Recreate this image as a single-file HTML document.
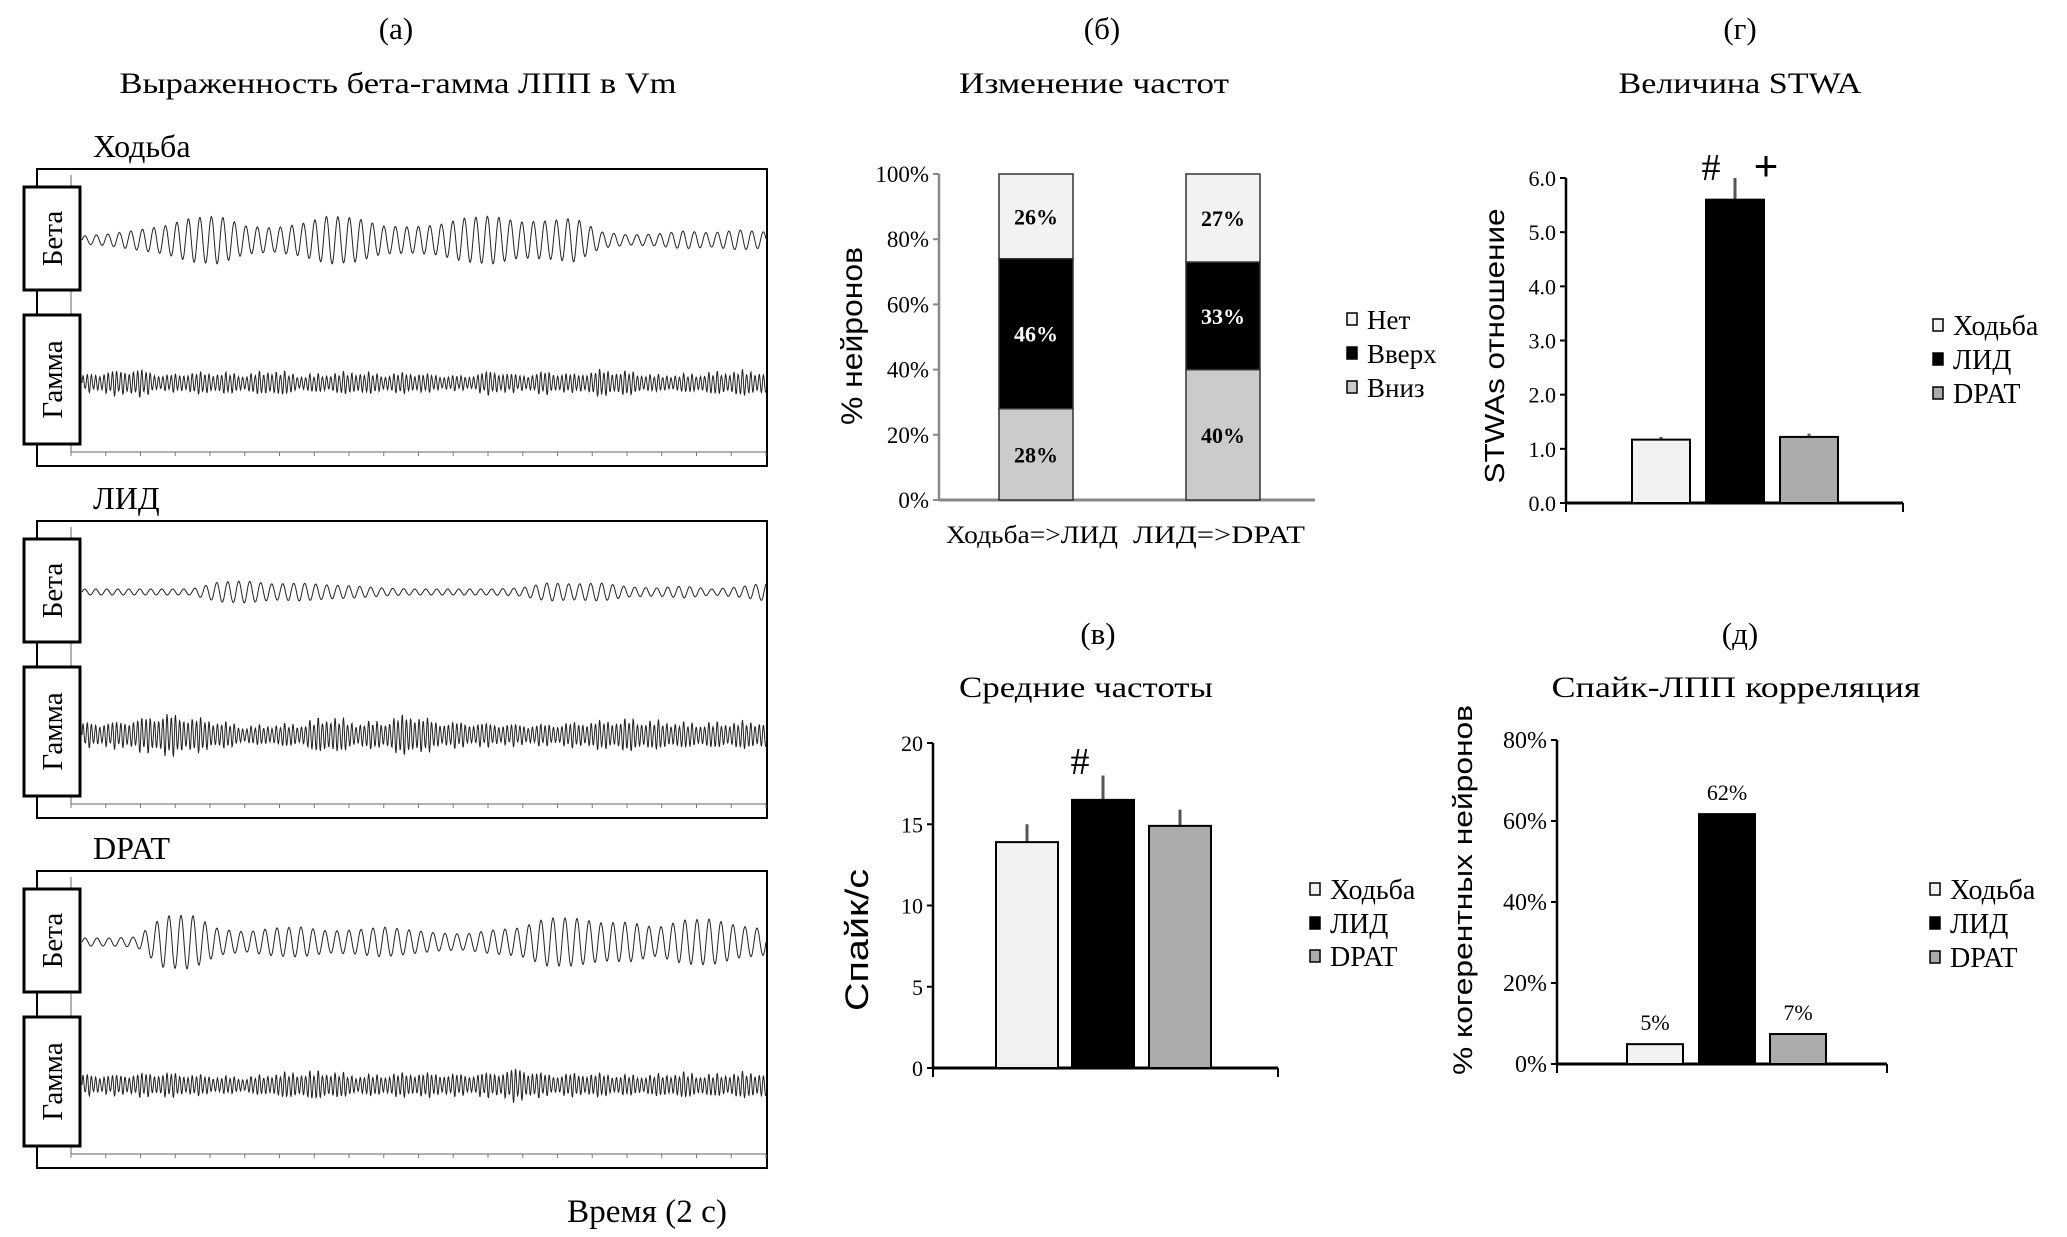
<!DOCTYPE html>
<html><head><meta charset="utf-8">
<style>
html,body{margin:0;padding:0;background:#fff;}
svg{display:block;font-family:"Liberation Serif",serif;}
.sans{font-family:"Liberation Sans",sans-serif;}
</style></head>
<body>
<svg id="fig" width="2067" height="1237" viewBox="0 0 2067 1237" xmlns="http://www.w3.org/2000/svg">
<rect width="2067" height="1237" fill="#fff"/>
<text x="396" y="39" font-size="31" text-anchor="middle">(а)</text>
<text x="398" y="93" font-size="30" text-anchor="middle" textLength="557" lengthAdjust="spacingAndGlyphs">Выраженность бета-гамма ЛПП в Vm</text>
<g id="traces"></g>
<text x="647" y="1222" font-size="33" text-anchor="middle" textLength="160" lengthAdjust="spacingAndGlyphs">Время (2 с)</text>

<text x="1102" y="39" font-size="31" text-anchor="middle">(б)</text>
<text x="1094" y="93" font-size="30" text-anchor="middle" textLength="270" lengthAdjust="spacingAndGlyphs">Изменение частот</text>
<g id="chartB"></g>

<text x="1740" y="39" font-size="31" text-anchor="middle">(г)</text>
<text x="1740" y="93" font-size="30" text-anchor="middle" textLength="243" lengthAdjust="spacingAndGlyphs">Величина STWA</text>
<g id="chartG"></g>

<text x="1098" y="644" font-size="31" text-anchor="middle">(в)</text>
<text x="1086" y="697" font-size="30" text-anchor="middle" textLength="254" lengthAdjust="spacingAndGlyphs">Средние частоты</text>
<g id="chartV"></g>

<text x="1740" y="644" font-size="31" text-anchor="middle">(д)</text>
<text x="1736" y="697" font-size="30" text-anchor="middle" textLength="369" lengthAdjust="spacingAndGlyphs">Спайк-ЛПП корреляция</text>
<g id="chartD"></g>
</svg>
<script>
// ---------- data ----------
const conditions = ["Ходьба", "ЛИД", "DPAT"];
const condColors = ["#f1f1f1", "#000000", "#ababab"];
// chart б
const transitions = ["Ходьба=>ЛИД", "ЛИД=>DPAT"];
const downVals = [28, 40];
const upVals = [46, 33];
const noneVals = [26, 27];
const bTicks = ["0%", "20%", "40%", "60%", "80%", "100%"];
// chart г
const stwaVals = [1.17, 5.6, 1.22];
const stwaErr = [0.05, 0.4, 0.06];
const gTicks = ["0.0", "1.0", "2.0", "3.0", "4.0", "5.0", "6.0"];
// chart в
const rateVals = [13.9, 16.5, 14.9];
const rateErr = [1.1, 1.5, 1.0];
const vTicks = ["0", "5", "10", "15", "20"];
// chart д
const cohVals = [4.9, 61.7, 7.4];
const cohLabels = ["5%", "62%", "7%"];
const dTicks = ["0%", "20%", "40%", "60%", "80%"];
// trace envelopes (amplitude in px)
const panelNames = ["Ходьба", "ЛИД", "DPAT"];
const betaEnv1 = [4,6,10,14,22,24,14,12,16,24,22,14,13,15,22,24,18,19,22,8,5,6,9,7,10,8];
const gammaEnv1 = [9,13,16,9,12,12,10,15,9,11,13,10,12,9,8,14,9,13,10,15,13,9,10,12,14,13];
const betaEnv2 = [3,3,3,3,3,10,11,8,9,7,6,4,3,3,3,3,4,9,8,9,5,4,6,3,5,9];
const gammaEnv2 = [14,14,18,24,20,16,10,12,13,22,14,16,24,15,14,13,12,12,14,16,18,16,14,14,15,16];
const betaEnv3 = [4,4,5,26,27,13,10,14,15,11,12,15,12,9,8,12,14,24,24,19,20,14,22,23,16,13];
const gammaEnv3 = [12,11,13,14,12,10,9,13,15,16,11,12,14,13,12,14,19,12,13,13,11,12,14,12,14,15];
const betaPeriods = [11.5, 11, 12];

const NS = "http://www.w3.org/2000/svg";
function mk(parent, tag, attrs, txt){
  const e = document.createElementNS(NS, tag);
  for (const k in attrs) e.setAttribute(k, attrs[k]);
  if (txt !== undefined) e.textContent = txt;
  parent.appendChild(e);
  return e;
}

// ---------- traces ----------
const traces = document.getElementById("traces");
const tops = [169, 521, 871];
const betaEnvs = [betaEnv1, betaEnv2, betaEnv3];
const gammaEnvs = [gammaEnv1, gammaEnv2, gammaEnv3];
function envAt(env, t){
  const p = t*(env.length-1); const i = Math.min(Math.floor(p), env.length-2); const f = p-i;
  return env[i]*(1-f)+env[i+1]*f;
}
function tracePath(env, cy, period, x0, x1, jitter){
  let d = "";
  for (let x = x0; x <= x1; x += 0.5){
    const t = (x-x0)/(x1-x0);
    let a = envAt(env, t);
    if (jitter) a *= 0.55 + 0.45*Math.abs(Math.sin(x*0.37)*Math.cos(x*0.11));
    const y = cy - a*Math.sin(2*Math.PI*(x-x0)/period);
    d += (d ? "L" : "M") + x.toFixed(1) + " " + y.toFixed(1);
  }
  return d;
}
tops.forEach((top, i) => {
  const g = mk(traces, "g", {});
  
  
  const nm = mk(g, "text", {x: 93, y: top-12, "font-size": 32}, panelNames[i]);
  
  
  const box = mk(g, "rect", {x: 37, y: top, width: 730, height: 297, fill: "#fff", stroke: "#000", "stroke-width": 2});
  
  
  const ax = mk(g, "path", {d: `M71 ${top+6} V${top+283} H766`, stroke: "#666", "stroke-width": 1, fill: "none"});
  
  
  for (let k = 0; k <= 20; k++){
    const tx = 71 + k*(695/20);
    const tk = mk(g, "line", {x1: tx, x2: tx, y1: top+283, y2: top+287, stroke: "#777", "stroke-width": 1});
    
    
  }
  const bp = mk(g, "path", {d: tracePath(betaEnvs[i], top+71, betaPeriods[i], 82, 766, false), stroke: "#222", "stroke-width": 1, fill: "none"});
  
  
  const gp = mk(g, "path", {d: tracePath(gammaEnvs[i], top+214, 4.2, 82, 766, true), stroke: "#222", "stroke-width": 1, fill: "none"});
  
  
  const lb = [["Бета", top+18, 103], ["Гамма", top+146, 129]];
  lb.forEach(([t, y, h], j) => {
    const r = mk(g, "rect", {x: 24, y: y, width: 56, height: h, fill: "#fff", stroke: "#000", "stroke-width": 3});
    
    
    const tt = mk(g, "text", {x: 0, y: 0, "font-size": 29, "text-anchor": "middle", transform: `translate(62 ${y+h/2}) rotate(-90)`}, t);
    
    
  });
});

// ---------- generic helpers ----------
function yAxis(g, ax, y0, y1, ticks, color, fs){
  const l = mk(g, "line", {x1: ax, x2: ax, y1: y1, y2: y0+1, stroke: color, "stroke-width": 2.5});
  
  
  ticks.forEach((t, k) => {
    const y = y0 - (y0-y1)*k/(ticks.length-1);
    const tk = mk(g, "line", {x1: ax-6, x2: ax, y1: y, y2: y, stroke: color, "stroke-width": 2});
    
    
    const tl = mk(g, "text", {x: ax-10, y: y+8, "font-size": fs, "text-anchor": "end"}, t);
    
    
  });
}
function xAxis(g, x0, x1, y, color, endTicks){
  const l = mk(g, "line", {x1: x0, x2: x1, y1: y, y2: y, stroke: color, "stroke-width": 3});
  
  
  if (endTicks){
    [x0, x1].forEach(x => {
      const t = mk(g, "line", {x1: x, x2: x, y1: y, y2: y+9, stroke: color, "stroke-width": 2});
      
      
    });
  }
}
function yTitle(g, x, y, txt, fs, len){
  const t = mk(g, "text", {x: 0, y: 0, "font-size": fs, "text-anchor": "middle", class: "sans", transform: `translate(${x} ${y}) rotate(-90)`, textLength: len, lengthAdjust: "spacingAndGlyphs"}, txt);
  
  
}
function legend(g, x, ys, labels, colors, fs){
  labels.forEach((lab, k) => {
    const r = mk(g, "rect", {x: x, y: ys[k]-6, width: 10, height: 12, fill: colors[k], stroke: "#000", "stroke-width": 1.5});
    
    
    const t = mk(g, "text", {x: x+20, y: ys[k]+10, "font-size": fs}, lab);
    
    
  });
}
function bars(g, centers, w, vals, errs, yf, colors){
  vals.forEach((v, k) => {
    const yT = yf(v), y0 = yf(0);
    if (errs){
      const e = mk(g, "line", {x1: centers[k], x2: centers[k], y1: yf(v+errs[k]), y2: yT, stroke: "#555", "stroke-width": 3});
      
      
    }
    const r = mk(g, "rect", {x: centers[k]-w/2, y: yT, width: w, height: y0-yT, fill: colors[k], stroke: "#000", "stroke-width": 2});
    
    
  });
}

// ---------- chart б ----------
(function(){
  const g = document.getElementById("chartB");
  const y0 = 500, y1 = 174;
  const yf = v => y0 - (y0-y1)*v/100;
  yAxis(g, 939, y0, y1, bTicks, "#888", 23);
  xAxis(g, 939, 1315, y0, "#888", false);
  const centers = [1036, 1223], w = 74;
  transitions.forEach((cat, k) => {
    const segs = [[downVals[k], "#cbcbcb", "#000", "down"], [upVals[k], "#000", "#fff", "up"], [noneVals[k], "#f2f2f2", "#000", "none"]];
    let base = 0;
    segs.forEach(([v, fill, tc, nm]) => {
      const r = mk(g, "rect", {x: centers[k]-w/2, y: yf(base+v), width: w, height: yf(base)-yf(base+v), fill: fill, stroke: "#333", "stroke-width": 1.5});
      
      
      const t = mk(g, "text", {x: centers[k], y: (yf(base)+yf(base+v))/2 + 8, "font-size": 22, "font-weight": "bold", "text-anchor": "middle", fill: tc}, v + "%");
      
      
      base += v;
    });
    const cl = mk(g, "text", {x: centers[k] - 4, y: 543, "font-size": 25, "text-anchor": "middle", textLength: 172, lengthAdjust: "spacingAndGlyphs"}, cat);
    
    
  });
  yTitle(g, 862, 336, "% нейронов", 30, 178);
  legend(g, 1347, [319, 353, 387], ["Нет", "Вверх", "Вниз"], ["#f2f2f2", "#000", "#cbcbcb"], 27);
})();

// ---------- chart г ----------
(function(){
  const g = document.getElementById("chartG");
  const y0 = 503, y1 = 178;
  const yf = v => y0 - (y0-y1)*v/6;
  yAxis(g, 1566, y0, y1, gTicks, "#000", 22);
  xAxis(g, 1566, 1903, y0, "#000", true);
  bars(g, [1661, 1735, 1809], 58, stwaVals, stwaErr, yf, condColors);
  const h = mk(g, "text", {x: 1711, y: 180, "font-size": 38, "text-anchor": "middle"}, "#");
  
  
  const p = mk(g, "text", {x: 1766, y: 180, "font-size": 42, "text-anchor": "middle", class: "sans"}, "+");
  
  
  yTitle(g, 1504, 346, "STWAs отношение", 28, 275);
  legend(g, 1933, [325, 359, 393], conditions, condColors, 28);
})();

// ---------- chart в ----------
(function(){
  const g = document.getElementById("chartV");
  const y0 = 1068, y1 = 743;
  const yf = v => y0 - (y0-y1)*v/20;
  yAxis(g, 933, y0, y1, vTicks, "#000", 22);
  xAxis(g, 933, 1278, y0, "#000", true);
  bars(g, [1027, 1103, 1180], 62, rateVals, rateErr, yf, condColors);
  const h = mk(g, "text", {x: 1080, y: 774, "font-size": 38, "text-anchor": "middle"}, "#");
  
  
  yTitle(g, 868, 940, "Спайк/с", 32, 142);
  legend(g, 1310, [889, 923, 956], conditions, condColors, 28);
})();

// ---------- chart д ----------
(function(){
  const g = document.getElementById("chartD");
  const y0 = 1064, y1 = 740;
  const yf = v => y0 - (y0-y1)*v/80;
  yAxis(g, 1557, y0, y1, dTicks, "#000", 24);
  xAxis(g, 1557, 1887, y0, "#000", true);
  const centers = [1655, 1727, 1798];
  bars(g, centers, 56, cohVals, null, yf, condColors);
  cohVals.forEach((v, k) => {
    const t = mk(g, "text", {x: centers[k], y: yf(v) - 14, "font-size": 22, "text-anchor": "middle"}, cohLabels[k]);
    
    
  });
  yTitle(g, 1472, 890, "% когерентных нейронов", 27, 370);
  legend(g, 1930, [889, 923, 957], conditions, condColors, 28);
})();
</script>
</body></html>
